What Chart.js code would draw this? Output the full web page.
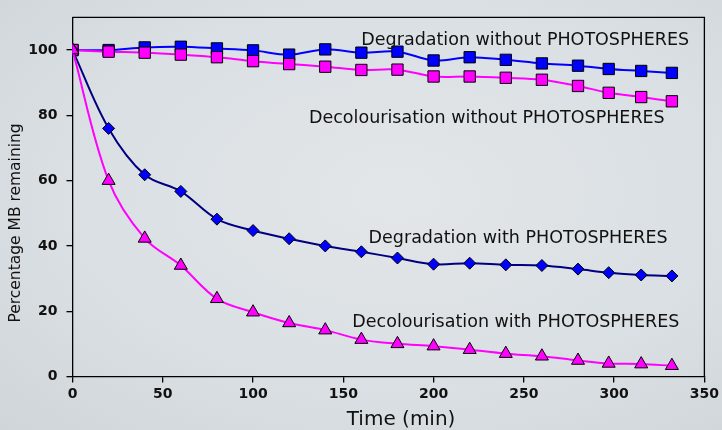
<!DOCTYPE html>
<html>
<head>
<meta charset="utf-8">
<script src="https://cdn.jsdelivr.net/npm/chart.js@4.4.1/dist/chart.umd.min.js"></script>
<style>
  html, body { margin: 0; padding: 0; }
  body { width: 722px; height: 430px; overflow: hidden;
    background: radial-gradient(ellipse at 55% 45%, #e2e6e9 0%, #dadfe3 60%, #cfd5d9 100%); }
  #wrap { position: relative; width: 722px; height: 430px; }
</style>
</head>
<body>
<div id="wrap"><canvas id="c" width="722" height="430"></canvas></div>
<script>
const timeMin = [0, 20, 40, 60, 80, 100, 120, 140, 160, 180, 200, 220, 240, 260, 280, 297, 315, 332];
const degradationWithout = [100, 100, 100.8, 101, 100.5, 99.9, 98.6, 100.2, 99.2, 99.5, 96.8, 97.8, 97, 95.9, 95.2, 94.2, 93.6, 93];
const decolourisationWithout = [100, 99.5, 99.2, 98.6, 97.8, 96.6, 95.7, 94.9, 93.9, 94, 91.9, 91.9, 91.5, 90.9, 89, 86.9, 85.6, 84.3];
const degradationWith = [100, 76, 61.8, 56.7, 48.2, 44.7, 42.2, 40, 38.2, 36.3, 34.4, 34.7, 34.2, 34, 32.9, 31.8, 31.1, 30.8];
const decolourisationWith = [100, 60, 42.3, 34, 23.8, 19.7, 16.4, 14.2, 11.3, 10, 9.3, 8.2, 7, 6.2, 4.9, 4, 3.8, 3.3];

const seriesNames = [
  'Degradation without PHOTOSPHERES',
  'Decolourisation without PHOTOSPHERES',
  'Degradation with PHOTOSPHERES',
  'Decolourisation with PHOTOSPHERES'
];
// label anchor (data coordinates: left x, middle y)
const labelX = [160, 131, 164, 155];
const labelY = [103, 79, 42.2, 16.5];

const xTicks = [0, 50, 100, 150, 200, 250, 300, 350];
const yTicks = [0, 20, 40, 60, 80, 100];
const xTitle = 'Time (min)';
const yTitle = 'Percentage MB remaining';

function pts(vals) { return timeMin.map((t, i) => ({ x: t, y: vals[i] })); }

const boxPlugin = {
  id: 'box',
  afterDraw(chart) {
    const { ctx, chartArea: a, scales } = chart;
    ctx.save();
    ctx.strokeStyle = '#000';
    ctx.lineWidth = 1.3;
    ctx.beginPath();
    ctx.moveTo(a.left, a.top); ctx.lineTo(a.right, a.top); ctx.lineTo(a.right, a.bottom);
    ctx.stroke();
    ctx.fillStyle = '#111';
    ctx.font = '17.5px "DejaVu Sans"';
    ctx.textBaseline = 'middle';
    ctx.textAlign = 'left';
    seriesNames.forEach((n, i) => {
      ctx.fillText(n, scales.x.getPixelForValue(labelX[i]), scales.y.getPixelForValue(labelY[i]));
    });
    // x axis title (offset slightly right of centre, as in the original)
    ctx.font = '20px "DejaVu Sans"';
    ctx.textAlign = 'center';
    ctx.fillText(xTitle, scales.x.getPixelForValue(182), 420);
    // y axis title
    ctx.translate(16, (a.top + a.bottom) / 2 + 26);
    ctx.rotate(-Math.PI / 2);
    ctx.font = '15.5px "DejaVu Sans"';
    ctx.fillText(yTitle, 0, 0);
    ctx.restore();
  }
};

const common = { borderWidth: 2, tension: 0.35, pointBorderColor: '#000', pointBorderWidth: 1, fill: false };

new Chart(document.getElementById('c'), {
  type: 'line',
  data: {
    datasets: [
      Object.assign({}, common, { label: seriesNames[3], data: pts(decolourisationWith), borderColor: '#ff00ff', backgroundColor: '#ff00ff', pointStyle: 'triangle', pointRadius: 7.5, order: 1 }),
      Object.assign({}, common, { label: seriesNames[2], data: pts(degradationWith), borderColor: '#000080', backgroundColor: '#0000ff', pointStyle: 'rectRot', pointRadius: 6, order: 2 }),
      Object.assign({}, common, { label: seriesNames[1], data: pts(decolourisationWithout), borderColor: '#ff00ff', backgroundColor: '#ff00ff', pointStyle: 'rect', pointRadius: 8, order: 3 }),
      Object.assign({}, common, { label: seriesNames[0], data: pts(degradationWithout), borderColor: '#0000ff', backgroundColor: '#0000ff', pointStyle: 'rect', pointRadius: 8, order: 4 })
    ]
  },
  options: {
    responsive: false,
    animation: false,
    devicePixelRatio: 1,
    layout: { padding: { left: 0, right: 17, top: 12, bottom: 0 } },
    plugins: { legend: { display: false }, tooltip: { enabled: false } },
    scales: {
      x: {
        type: 'linear', min: 0, max: 350,
        afterBuildTicks: s => { s.ticks = xTicks.map(v => ({ value: v })); },
        afterFit: s => { s.height = 53.5; },
        border: { display: true, color: '#000', width: 1.3 },
        grid: { drawOnChartArea: false, drawTicks: true, tickLength: 6, color: '#000', lineWidth: 1.3 },
        ticks: { color: '#111', font: { family: 'DejaVu Sans', size: 14, weight: 'bold' }, padding: 3 },
        title: { display: false }
      },
      y: {
        type: 'linear', min: 0, max: 110,
        afterBuildTicks: s => { s.ticks = yTicks.map(v => ({ value: v })); },
        afterFit: s => { s.width = 72.5; },
        border: { display: true, color: '#000', width: 1.3 },
        grid: { drawOnChartArea: false, drawTicks: true, tickLength: 6, color: '#000', lineWidth: 1.3 },
        ticks: { color: '#111', font: { family: 'DejaVu Sans', size: 14, weight: 'bold' }, padding: 9 },
        title: { display: false }
      }
    }
  },
  plugins: [boxPlugin]
});
</script>
</body>
</html>
